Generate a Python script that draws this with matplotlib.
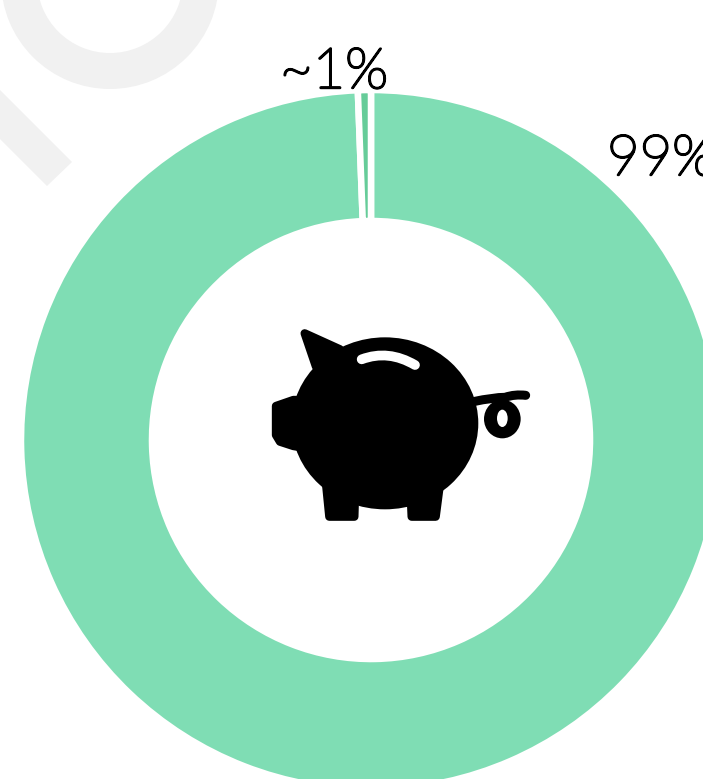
import matplotlib
matplotlib.use('Agg')
import matplotlib.pyplot as plt
import matplotlib.patheffects as pe
from matplotlib.patches import Ellipse, Polygon, PathPatch, Wedge
from matplotlib.path import Path

# share of savings
shares = [99.4, 0.6]
share_colors = ['#7FDDB4', '#66CC99']
labels = ['99%', '~1%']

W, H = 703, 779
GREY = '#F1F1F1'


def py(y):
    # picture pixels run downwards, the axes run upwards
    return H - y


def pig(x, y):
    return 260 + x / 3, py(320 + y / 3)


fig = plt.figure(figsize=(W / 100, H / 100), dpi=100)
ax = fig.add_axes([0, 0, 1, 1])
ax.set_xlim(0, W)
ax.set_ylim(0, H)
ax.set_axis_off()

# faint logo behind the chart
ax.add_patch(Wedge((110, py(-20)), 109, 0, 360, width=36, color=GREY, lw=0))
ax.add_patch(Polygon([(0, py(90)), (72, py(162)), (47, py(186)), (0, py(139))], color=GREY, lw=0))

# ring
ax.pie(shares, colors=share_colors, startangle=90, counterclock=False, center=(371, py(440)),
       radius=350, frame=True,
       wedgeprops=dict(width=131, edgecolor='white', linewidth=4.7))
ax.set_xlim(0, W)
ax.set_ylim(0, H)
ax.set_aspect('auto')
ax.set_axis_off()

# the light weight comes out as a hairline, so thicken it a little
plt.rcParams['font.family'] = ['Lato', 'DejaVu Sans']
thicker = [pe.withStroke(linewidth=1.7, foreground='black')]
ax.text(607, py(175), labels[0], fontsize=40.5, fontweight='light', color='black', ha='left', va='baseline',
        path_effects=thicker)
ax.text(280, py(88), labels[1], fontsize=40.5, fontweight='light', color='black', ha='left', va='baseline',
        path_effects=thicker)

# piggy bank
ax.add_patch(Ellipse(pig(375, 310), 93.3 * 2, 86 * 2, color='black', lw=0, zorder=3))
blobs = [
    [(134, 40), (240, 88), (250, 130), (168, 140)],  # ear
    [(48, 258), (100, 240), (130, 240), (130, 383), (100, 378), (60, 365), (48, 345)],  # snout
    [(198, 490), (285, 520), (283, 590), (208, 590)],  # back leg
    [(540, 490), (452, 520), (455, 590), (527, 590)],  # front leg
]
for blob in blobs:
    ax.add_patch(Polygon([pig(*p) for p in blob], closed=True, fc='black', ec='black', lw=6,
                         joinstyle='round', zorder=3))

slit = Path([pig(305, 118), pig(385, 88), pig(465, 135)], [Path.MOVETO, Path.CURVE3, Path.CURVE3])
ax.add_patch(PathPatch(slit, fc='none', ec='white', lw=7, capstyle='round', zorder=4))

ax.add_patch(Ellipse(pig(727, 297), 110 / 3, 116 / 3, color='black', lw=0, zorder=3))
ax.add_patch(Ellipse(pig(727, 295), 32 / 3, 52 / 3, color='white', lw=0, zorder=4))
tail = Path([pig(640, 245), pig(700, 232), pig(735, 232), pig(765, 222), pig(797, 226)],
            [Path.MOVETO, Path.CURVE3, Path.CURVE3, Path.CURVE3, Path.CURVE3])
ax.add_patch(PathPatch(tail, fc='none', ec='black', lw=6.5, capstyle='round', zorder=3))

fig.savefig('out.png', dpi=100)
